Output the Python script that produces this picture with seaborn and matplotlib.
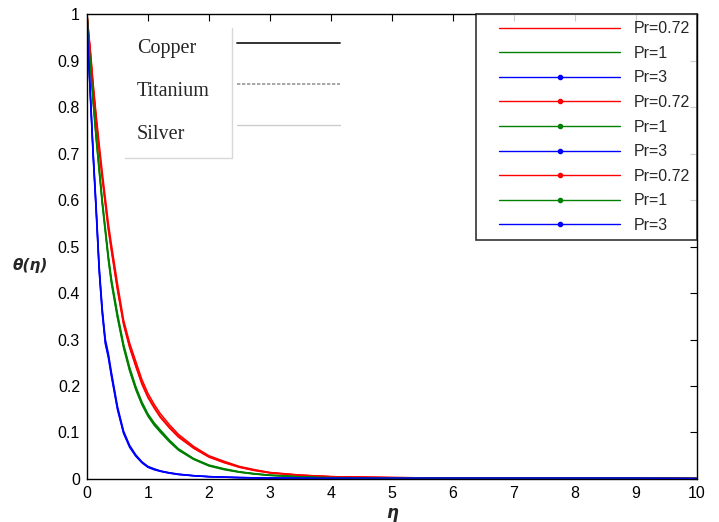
import matplotlib
matplotlib.use("Agg")
import matplotlib.pyplot as plt
from matplotlib.lines import Line2D
from matplotlib.legend_handler import HandlerLine2D
import seaborn as sns

# ---------------- data ----------------
eta = [0, 0.025, 0.05, 0.075, 0.1, 0.15, 0.2, 0.25, 0.3, 0.35, 0.4,
       0.5, 0.6, 0.7, 0.8, 0.9, 1.0,
       1.1, 1.2, 1.35, 1.5, 1.75, 2.0,
       2.25, 2.5, 2.75, 3.0, 3.5, 4,
       5, 6, 7, 8, 9, 10]

# Pr = 0.72 (red)
red_copper = [1, 0.96, 0.925, 0.885, 0.845, 0.775, 0.71, 0.65, 0.595, 0.54, 0.495,
              0.41, 0.335, 0.285, 0.245, 0.207, 0.177,
              0.155, 0.135, 0.112, 0.092, 0.067, 0.048,
              0.036, 0.026, 0.019, 0.0135, 0.008, 0.005,
              0.003, 0.002, 0.002, 0.002, 0.002, 0.001]
red_titanium = [1, 0.963, 0.93, 0.892, 0.852, 0.783, 0.72, 0.66, 0.605, 0.55, 0.505,
                0.42, 0.342, 0.292, 0.253, 0.214, 0.184,
                0.161, 0.141, 0.117, 0.096, 0.07, 0.05,
                0.038, 0.027, 0.02, 0.014, 0.0085, 0.005,
                0.003, 0.002, 0.002, 0.002, 0.002, 0.001]
red_silver = [1, 0.959, 0.923, 0.882, 0.842, 0.772, 0.706, 0.646, 0.591, 0.536, 0.491,
              0.406, 0.332, 0.282, 0.242, 0.204, 0.175,
              0.153, 0.133, 0.11, 0.09, 0.066, 0.047,
              0.035, 0.025, 0.018, 0.013, 0.0078, 0.005,
              0.003, 0.002, 0.002, 0.002, 0.002, 0.001]

# Pr = 1 (green)
green_copper = [1, 0.95, 0.905, 0.86, 0.815, 0.735, 0.665, 0.595, 0.535, 0.475, 0.425,
                0.35, 0.285, 0.235, 0.195, 0.162, 0.137,
                0.118, 0.103, 0.082, 0.063, 0.043, 0.029,
                0.021, 0.015, 0.011, 0.008, 0.005, 0.003,
                0.002, 0.002, 0.002, 0.002, 0.002, 0.001]
green_titanium = [1, 0.953, 0.909, 0.865, 0.82, 0.741, 0.671, 0.601, 0.541, 0.481, 0.431,
                  0.356, 0.29, 0.24, 0.199, 0.166, 0.14,
                  0.121, 0.106, 0.084, 0.065, 0.044, 0.03,
                  0.022, 0.0155, 0.0115, 0.0083, 0.0052, 0.003,
                  0.002, 0.002, 0.002, 0.002, 0.002, 0.001]
green_silver = [1, 0.948, 0.902, 0.857, 0.812, 0.732, 0.661, 0.591, 0.531, 0.471, 0.421,
                0.346, 0.282, 0.232, 0.192, 0.16, 0.135,
                0.116, 0.101, 0.08, 0.062, 0.042, 0.028,
                0.02, 0.0145, 0.0105, 0.0077, 0.0048, 0.003,
                0.002, 0.002, 0.002, 0.002, 0.002, 0.001]

# Pr = 3 (blue)
blue_copper = [1, 0.91, 0.84, 0.77, 0.70, 0.58, 0.45, 0.36, 0.295, 0.265, 0.225,
               0.152, 0.1, 0.07, 0.05, 0.036, 0.026,
               0.021, 0.017, 0.013, 0.01, 0.007, 0.005,
               0.004, 0.003, 0.0025, 0.002, 0.002, 0.002,
               0.002, 0.002, 0.002, 0.002, 0.002, 0.001]
blue_titanium = [1, 0.913, 0.845, 0.776, 0.707, 0.587, 0.458, 0.367, 0.301, 0.27, 0.23,
                 0.156, 0.103, 0.072, 0.052, 0.037, 0.027,
                 0.022, 0.0175, 0.0135, 0.0105, 0.0072, 0.0052,
                 0.004, 0.003, 0.0025, 0.002, 0.002, 0.002,
                 0.002, 0.002, 0.002, 0.002, 0.002, 0.001]
blue_silver = [1, 0.908, 0.837, 0.766, 0.695, 0.575, 0.446, 0.356, 0.291, 0.261, 0.221,
               0.149, 0.098, 0.068, 0.049, 0.035, 0.025,
               0.02, 0.0165, 0.0125, 0.0095, 0.0068, 0.0048,
               0.0038, 0.003, 0.0025, 0.002, 0.002, 0.002,
               0.002, 0.002, 0.002, 0.002, 0.002, 0.001]

pr_labels = ["Pr=0.72", "Pr=1", "Pr=3"]
materials = ["Copper", "Titanium", "Silver"]
x_ticks = [0, 1, 2, 3, 4, 5, 6, 7, 8, 9, 10]
y_ticks = [0, 0.1, 0.2, 0.3, 0.4, 0.5, 0.6, 0.7, 0.8, 0.9, 1]

series = [
    (red_copper, "#ff0000"), (green_copper, "#008000"), (blue_copper, "#0000ff"),
    (red_titanium, "#ff0000"), (green_titanium, "#008000"), (blue_titanium, "#0000ff"),
    (red_silver, "#ff0000"), (green_silver, "#008000"), (blue_silver, "#0000ff"),
]
legend_markers = [False, False, True, True, True, True, True, True, True]


class PaddedLine(HandlerLine2D):
    """Legend line that leaves a blank gap at its left end."""
    def __init__(self, pad_frac, **kw):
        super().__init__(numpoints=1, **kw)
        self.pad_frac = pad_frac

    def get_xdata(self, legend, xdescent, ydescent, width, height, fontsize):
        x0 = -xdescent + self.pad_frac * width
        x1 = -xdescent + width
        return [x0, x1], [0.5 * (x0 + x1)]


# ---------------- figure ----------------
sns.set_style("white")
plt.rcParams["font.family"] = ["Liberation Sans", "DejaVu Sans"]

fig = plt.figure(figsize=(7.19, 5.22), dpi=100)
ax = fig.add_axes([0.121, 0.0824, 0.848, 0.8906])

for vals, col in series:
    sns.lineplot(x=eta, y=vals, color=col, linewidth=1.1, ax=ax, legend=False)

ax.set_xlim(0, 10)
ax.set_ylim(0, 1)
ax.set_xticks(x_ticks)
ax.set_yticks(y_ticks)
ax.set_xticklabels([f"{v:g}" for v in x_ticks], fontsize=11.5)
ax.set_yticklabels([f"{v:g}" for v in y_ticks], fontsize=11.5)
ax.tick_params(direction="in", length=5, width=0.8, top=True, right=True, pad=5, colors="black")
for s in ax.spines.values():
    s.set_color("black")
    s.set_linewidth(1.0)

ax.set_xlabel("η", fontsize=12, fontweight="bold", style="italic",
              family=["DejaVu Sans"], labelpad=2)
ax.set_ylabel("θ(η)", fontsize=11, fontweight="bold", style="italic",
              family=["DejaVu Sans"], rotation=0, ha="center", va="center")
ax.yaxis.set_label_coords(-0.093, 0.46)

# Pr legend (upper right)
handles = []
for (vals, col), mk in zip(series, legend_markers):
    handles.append(Line2D([], [], color=col, linewidth=1.0,
                          marker="." if mk else None, markersize=6))
labels = pr_labels * 3
leg1 = ax.legend(handles, labels, loc="upper right", bbox_to_anchor=(1.0, 1.0),
                 borderaxespad=0, fontsize=11.5, handlelength=8.6, handletextpad=0.8,
                 labelspacing=0.6, borderpad=0.45, frameon=True, fancybox=False,
                 handler_map={Line2D: PaddedLine(0.116)})
leg1.get_frame().set_edgecolor("black")
leg1.get_frame().set_linewidth(1.2)
ax.add_artist(leg1)

# Material legend: labels (left aligned) ...
blank = [Line2D([], [], linestyle="none") for _ in materials]
leg2 = ax.legend(blank, materials, loc="upper left", bbox_to_anchor=(0.082, 0.946),
                 borderaxespad=0, borderpad=0, prop={"family": "Liberation Serif", "size": 14.5},
                 handlelength=0, handletextpad=0, labelspacing=1.18, frameon=False)
ax.add_artist(leg2)

# ... and their line samples
mat_handles = [Line2D([], [], color="#222222", linewidth=1.3),
               Line2D([], [], color="#999999", linewidth=1.2, linestyle=(0, (2, 1))),
               Line2D([], [], color="#cccccc", linewidth=1.0)]
leg3 = ax.legend(mat_handles, [" "] * 3, loc="upper left", bbox_to_anchor=(0.246, 0.952),
                 borderaxespad=0, borderpad=0, prop={"family": "Liberation Serif", "size": 14.5},
                 handlelength=5.1, handletextpad=0, labelspacing=1.08, frameon=False)

# light box edges around the material labels (right and bottom)
ax.add_line(Line2D([0.237, 0.237], [0.69, 0.97], transform=ax.transAxes,
                   color="#d8d8d8", linewidth=1.0))
ax.add_line(Line2D([0.062, 0.237], [0.69, 0.69], transform=ax.transAxes,
                   color="#d8d8d8", linewidth=1.0))

fig.savefig("out.png", dpi=100)
